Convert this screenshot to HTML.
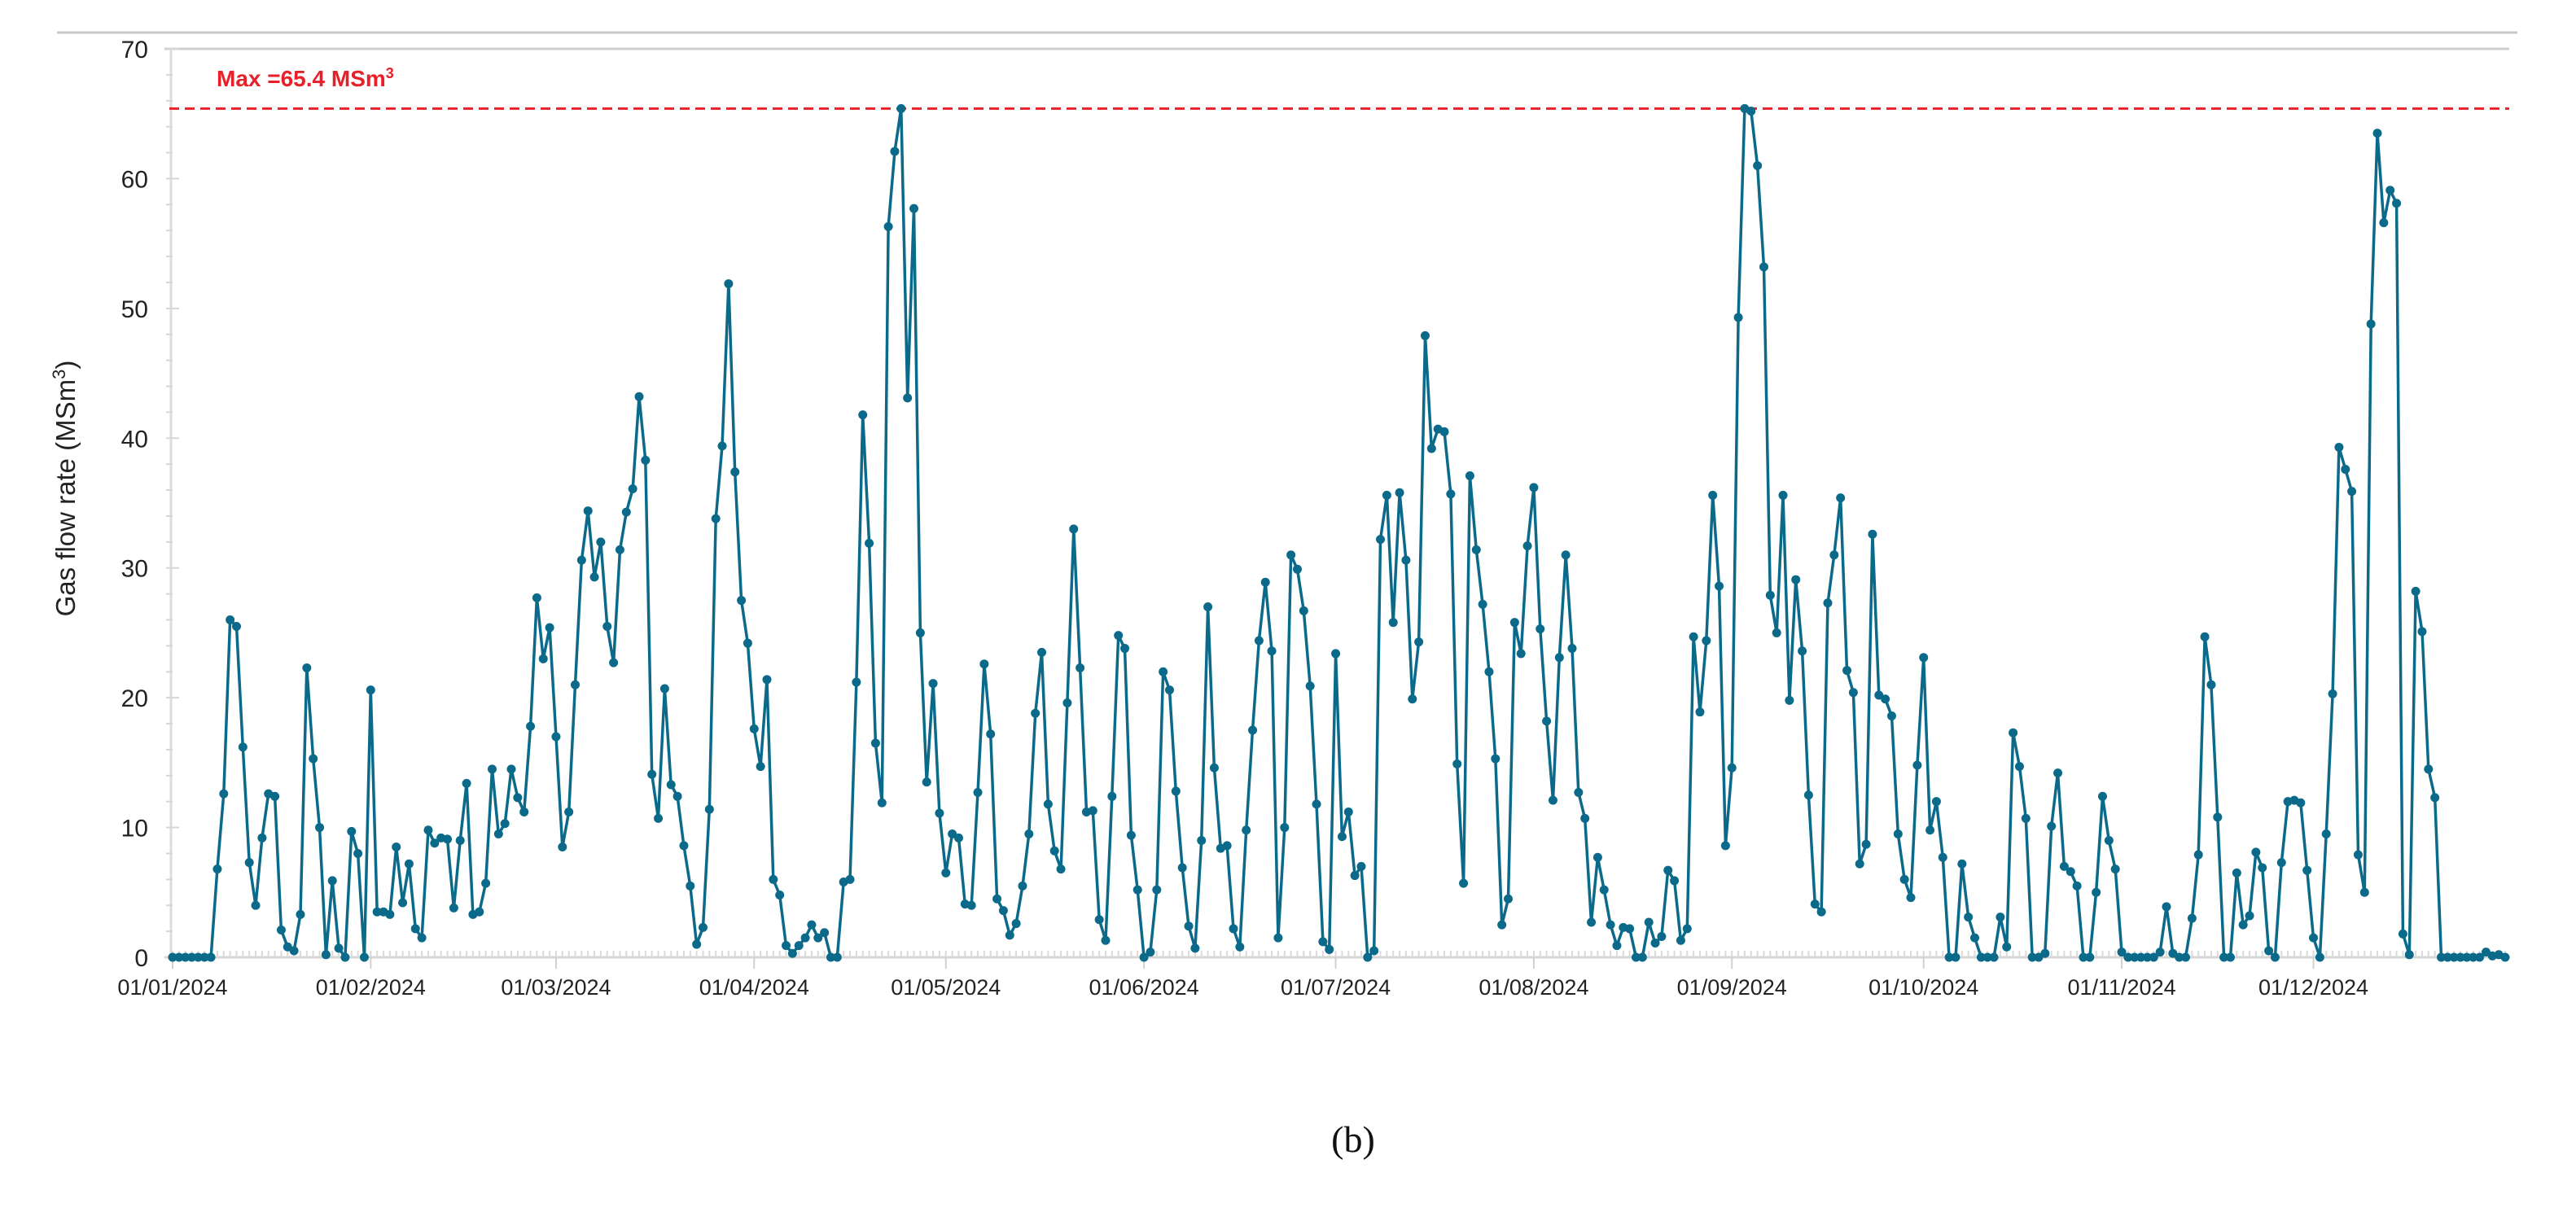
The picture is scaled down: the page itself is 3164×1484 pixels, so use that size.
<!DOCTYPE html>
<html><head><meta charset="utf-8"><style>
html,body{margin:0;padding:0;background:#fff;}
svg{display:block;}
</style></head><body>
<svg id="chart" width="3164" height="1484" viewBox="0 0 3164 1484" xmlns="http://www.w3.org/2000/svg">
<line x1="70" y1="40" x2="3092" y2="40" stroke="#c8c8c8" stroke-width="3"/>
<g id="axes"></g>
<g id="series"></g>
<text transform="translate(92,600) rotate(-90)" text-anchor="middle" font-family="Liberation Sans, sans-serif" font-size="33" fill="#222">Gas flow rate (MSm<tspan baseline-shift="super" font-size="22">3</tspan>)</text>
<text x="266" y="106" font-family="Liberation Sans, sans-serif" font-weight="bold" font-size="28" fill="#e8202a">Max =65.4 MSm<tspan baseline-shift="super" font-size="18">3</tspan></text>
<text x="1662" y="1415" text-anchor="middle" font-family="Liberation Serif, serif" font-size="46" fill="#111">(b)</text>
</svg>
<script>
const monthLabels = ["01/01/2024","01/02/2024","01/03/2024","01/04/2024","01/05/2024","01/06/2024","01/07/2024","01/08/2024","01/09/2024","01/10/2024","01/11/2024","01/12/2024"];
const monthStartDays = [0,31,60,91,121,152,182,213,244,274,305,335];
const yTicks = [0,10,20,30,40,50,60,70];
const maxValue = 65.4;
const janVals = [0,0,0,0,0,0,0,6.8,12.6,26,25.5,16.2,7.3,4,9.2,12.6,12.4,2.1,0.8,0.5,3.3,22.3,15.3,10,0.2,5.9,0.7,0,9.7,8,0];
const febVals = [20.6,3.5,3.5,3.3,8.5,4.2,7.2,2.2,1.5,9.8,8.8,9.2,9.1,3.8,9,13.4,3.3,3.5,5.7,14.5,9.5,10.3,14.5,12.3,11.2,17.8,27.7,23,25.4];
const marVals = [17,8.5,11.2,21,30.6,34.4,29.3,32,25.5,22.7,31.4,34.3,36.1,43.2,38.3,14.1,10.7,20.7,13.3,12.4,8.6,5.5,1,2.3,11.4,33.8,39.4,51.9,37.4,27.5,24.2];
const aprVals = [17.6,14.7,21.4,6,4.8,0.9,0.3,0.9,1.5,2.5,1.5,1.9,0,0,5.8,6,21.2,41.8,31.9,16.5,11.9,56.3,62.1,65.4,43.1,57.7,25,13.5,21.1,11.1];
const mayVals = [6.5,9.5,9.2,4.1,4,12.7,22.6,17.2,4.5,3.6,1.7,2.6,5.5,9.5,18.8,23.5,11.8,8.2,6.8,19.6,33,22.3,11.2,11.3,2.9,1.3,12.4,24.8,23.8,9.4,5.2];
const junVals = [0,0.4,5.2,22,20.6,12.8,6.9,2.4,0.7,9,27,14.6,8.4,8.6,2.2,0.8,9.8,17.5,24.4,28.9,23.6,1.5,10,31,29.9,26.7,20.9,11.8,1.2,0.6];
const julVals = [23.4,9.3,11.2,6.3,7,0,0.5,32.2,35.6,25.8,35.8,30.6,19.9,24.3,47.9,39.2,40.7,40.5,35.7,14.9,5.7,37.1,31.4,27.2,22,15.3,2.5,4.5,25.8,23.4,31.7];
const augVals = [36.2,25.3,18.2,12.1,23.1,31,23.8,12.7,10.7,2.7,7.7,5.2,2.5,0.9,2.3,2.2,0,0,2.7,1.1,1.6,6.7,5.9,1.3,2.2,24.7,18.9,24.4,35.6,28.6,8.6];
const sepVals = [14.6,49.3,65.4,65.2,61,53.2,27.9,25,35.6,19.8,29.1,23.6,12.5,4.1,3.5,27.3,31,35.4,22.1,20.4,7.2,8.7,32.6,20.2,19.9,18.6,9.5,6,4.6,14.8];
const octVals = [23.1,9.8,12,7.7,0,0,7.2,3.1,1.5,0,0,0,3.1,0.8,17.3,14.7,10.7,0,0,0.3,10.1,14.2,7,6.6,5.5,0,0,5];
const novVals = [12.4,9,6.8,0.4,0,0,0,0,0,0.4,3.9,0.3,0,0,3,7.9,24.7,21,10.8,0,0,6.5,2.5,3.2,8.1,6.9,0.5,0,7.3,12];
const decVals = [12.1,11.9,6.7,1.5,0,9.5,20.3,39.3,37.6,35.9,7.9,5,48.8,63.5,56.6,59.1,58.1,1.8,0.2,28.2,25.1,14.5,12.3,0,0,0,0,0,0,0,0.4,0.1,0.2,0];

const NS = "http://www.w3.org/2000/svg";
const X0 = 212, X1 = 3077, Y0 = 1176, YTOP = 60;
const values = [].concat(janVals,febVals,marVals,aprVals,mayVals,junVals,julVals,augVals,sepVals,octVals,novVals,decVals);
const nDays = 366;
function xScale(d){ return X0 + d*(X1-X0)/(nDays-1); }
function yScale(v){ return Y0 - v*(Y0-YTOP)/70; }
function mk(tag, attrs, parent){ const e=document.createElementNS(NS,tag); for(const k in attrs) e.setAttribute(k,attrs[k]); parent.appendChild(e); return e; }

const axes = document.getElementById('axes');
const tg = mk('line',{x1:X0-10,y1:yScale(70),x2:3082,y2:yScale(70),stroke:'#cfcfcf','stroke-width':3},axes);


const ya = mk('line',{x1:X0-2,y1:yScale(70),x2:X0-2,y2:Y0,stroke:'#dcdcdc','stroke-width':3},axes);


for(let v=0; v<=70; v+=2){
  const t = mk('line',{x1:X0-8,y1:yScale(v),x2:X0+ (v%10===0?8:0),y2:yScale(v),stroke:'#d6d6d6','stroke-width':2},axes);
  
  
}
yTicks.forEach(v=>{
  const t = mk('text',{x:182,y:yScale(v)+11,'text-anchor':'end','font-family':'Liberation Sans, sans-serif','font-size':30,fill:'#222'},axes);
  t.textContent = v;
  
  
});
const bl = mk('line',{x1:X0-10,y1:Y0,x2:3082,y2:Y0,stroke:'#d6d6d6','stroke-width':3},axes);


for(let d=0; d<nDays; d++){
  const t = mk('line',{x1:xScale(d),y1:Y0-8,x2:xScale(d),y2:Y0,stroke:'#dadada','stroke-width':2},axes);
  
  
}
monthLabels.forEach((lab,i)=>{
  const x = xScale(monthStartDays[i]);
  const tk = mk('line',{x1:x,y1:Y0,x2:x,y2:Y0+14,stroke:'#d0d0d0','stroke-width':2},axes);
  
  
  const t = mk('text',{x:x,y:Y0+46,'text-anchor':'middle','font-family':'Liberation Sans, sans-serif','font-size':27,fill:'#222'},axes);
  t.textContent = lab;
  
  
});
const ml = mk('line',{x1:X0-4,y1:yScale(maxValue),x2:3082,y2:yScale(maxValue),stroke:'#e8202a','stroke-width':3,'stroke-dasharray':'12 7'},axes);



const series = document.getElementById('series');
const pts = values.map((v,i)=>xScale(i).toFixed(1)+','+yScale(v).toFixed(1)).join(' ');
const pl = mk('polyline',{points:pts,fill:'none',stroke:'#0b6a8a','stroke-width':3.5,'stroke-linejoin':'round'},series);


values.forEach((v,i)=>{
  const c = mk('circle',{cx:xScale(i),cy:yScale(v),r:5.5,fill:'#0b6a8a'},series);
  
  
});
</script>
</body></html>
